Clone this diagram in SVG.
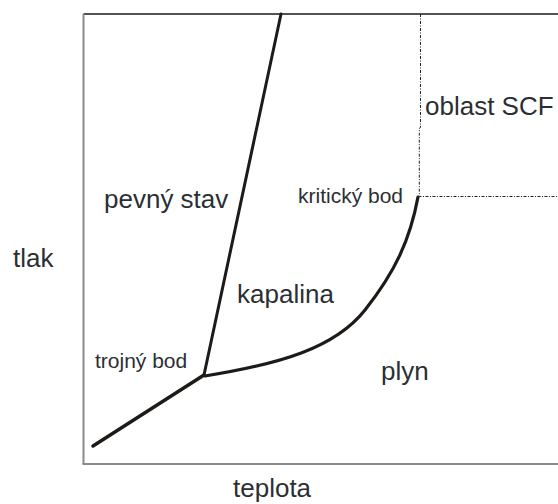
<svg xmlns="http://www.w3.org/2000/svg" width="558" height="504" viewBox="0 0 558 504">
<style>
.t{font-family:"Liberation Sans",Arial,sans-serif;fill:#2b2f33}
.big{font-size:26px}
.sm{font-size:21px}
.ax{stroke:#8a8a8a;stroke-width:2;fill:none}
.ph{stroke:#1e1a17;fill:none;stroke-linecap:round;stroke-linejoin:round}
.dash{stroke:#222;stroke-width:1;fill:none;stroke-dasharray:3,1.5,1,1.5}
</style>
<rect width="558" height="504" fill="#fff"/>
<g id="frame">
<line x1="83.5" y1="14" x2="558" y2="14" stroke="#1a1a14" stroke-width="1.5"/>
<line class="ax" x1="83.5" y1="14" x2="83.5" y2="464"/>
<line class="ax" x1="82.5" y1="464" x2="558" y2="464"/>
</g>
<g id="connectors">
<path id="melting" class="ph" stroke-width="3" d="M204,375 L281,14"/>
<path id="sublimation" class="ph" stroke-width="3.5" d="M93,446 L204,375"/>
<path id="vaporization" class="ph" stroke-width="3.2" d="M205,376 C280,364 335,348 365,310 S410,240 418,197"/>
<path id="scf-boundary" class="dash" d="M420.5,14 V127 L419.3,129 V196.5 H558"/>
</g>
<g id="label-tlak"><text class="t big" x="13" y="267">tlak</text></g>
<g id="label-teplota"><text class="t big" x="233" y="497">teplota</text></g>
<g id="pevny-stav"><text class="t big" x="104" y="208">pevný stav</text></g>
<g id="kapalina"><text class="t big" x="237" y="303">kapalina</text></g>
<g id="plyn"><text class="t big" x="381" y="380">plyn</text></g>
<g id="oblast-scf"><text class="t big" x="425" y="115">oblast SCF</text></g>
<g id="kriticky-bod"><text class="t sm" x="298" y="203">kritický bod</text></g>
<g id="trojny-bod"><text class="t sm" x="95" y="368">trojný bod</text></g>
</svg>
